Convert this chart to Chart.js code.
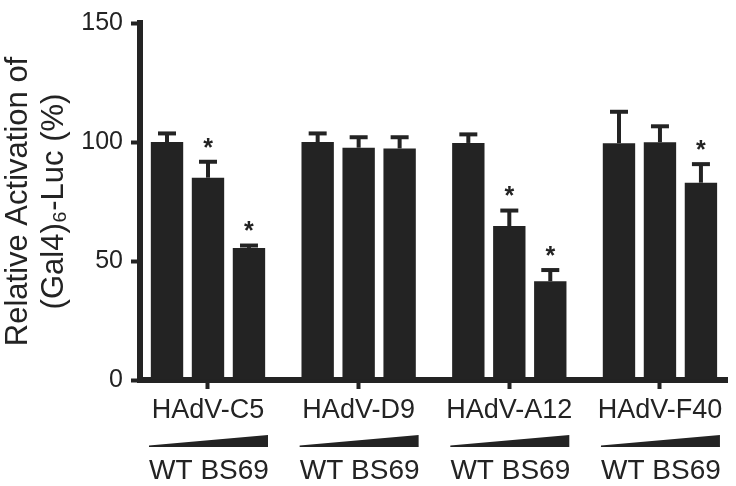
<!DOCTYPE html>
<html>
<head>
<meta charset="utf-8">
<script src="https://cdn.jsdelivr.net/npm/chart.js@4.4.1/dist/chart.umd.min.js"></script>
<style>
  html, body { margin: 0; padding: 0; background: #fff; }
  #wrap { width: 736px; height: 486px; }
</style>
</head>
<body>
<div id="wrap"><canvas id="activationChart" width="736" height="486"></canvas></div>
<script>
const groups = ['HAdV-C5', 'HAdV-D9', 'HAdV-A12', 'HAdV-F40'];
const doseLabel = 'WT BS69';
// mean activation (%) for the three increasing BS69 doses
const dose1 = [100, 100, 99.6, 99.5];
const dose2 = [85, 97.6, 64.7, 99.9];
const dose3 = [55.5, 97.3, 41.5, 82.9];
// upper error bars
const err1 = [3.6, 3.6, 3.6, 13.2];
const err2 = [6.7, 4.4, 6.5, 6.7];
const err3 = [1.0, 4.7, 4.7, 7.8];
// significance asterisks
const sig1 = [false, false, false, false];
const sig2 = [true, false, true, false];
const sig3 = [true, false, true, true];
const yTicks = [0, 50, 100, 150];

const ink = '#232323';
const fontFamily = '"Liberation Sans", Arial, sans-serif';

function toPoints(values) {
    return values.map((v, i) => ({ x: i, y: v }));
}

function makeSet(label, values, errors, stars) {
    return {
        label: label,
        data: toPoints(values),
        errors: errors,
        stars: stars,
        backgroundColor: ink,
        borderWidth: 0,
        categoryPercentage: 0.816,
        barPercentage: 0.79
    };
}

// error bars (upper only) + asterisks
const errorBars = {
    id: 'errorBars',
    afterDatasetsDraw(chart) {
        const { ctx, scales: { y } } = chart;
        ctx.save();
        ctx.strokeStyle = ink;
        ctx.fillStyle = ink;
        chart.data.datasets.forEach((ds, di) => {
            const meta = chart.getDatasetMeta(di);
            meta.data.forEach((bar, i) => {
                const top = y.getPixelForValue(ds.data[i].y + ds.errors[i]);
                ctx.lineWidth = 4;
                ctx.beginPath();
                ctx.moveTo(bar.x, bar.y);
                ctx.lineTo(bar.x, top);
                ctx.stroke();
                ctx.beginPath();
                ctx.moveTo(bar.x - 9, top);
                ctx.lineTo(bar.x + 9, top);
                ctx.stroke();
                if (ds.stars[i]) {
                    ctx.font = 'bold 25px ' + fontFamily;
                    ctx.textAlign = 'center';
                    ctx.textBaseline = 'middle';
                    ctx.fillText('*', bar.x, top - 13);
                }
            });
        });
        ctx.restore();
    }
};

// dose wedges and "WT BS69" under each group
const doseWedges = {
    id: 'doseWedges',
    afterDraw(chart) {
        const { ctx, scales: { x }, chartArea } = chart;
        const base = chartArea.bottom;
        ctx.save();
        ctx.fillStyle = ink;
        groups.forEach((g, i) => {
            const cx = x.getPixelForValue(i);
            ctx.beginPath();
            ctx.moveTo(cx - 59, base + 65.5);
            ctx.lineTo(cx + 60, base + 55);
            ctx.lineTo(cx + 60, base + 67);
            ctx.lineTo(cx - 59, base + 67);
            ctx.closePath();
            ctx.fill();
            ctx.font = '28px ' + fontFamily;
            ctx.textAlign = 'center';
            ctx.textBaseline = 'alphabetic';
            ctx.fillText(doseLabel, cx + 1, base + 99);
        });
        ctx.restore();
    }
};

const ctx = document.getElementById('activationChart');
new Chart(ctx, {
    type: 'bar',
    data: {
        datasets: [
            makeSet('dose 1', dose1, err1, sig1),
            makeSet('dose 2', dose2, err2, sig2),
            makeSet('dose 3', dose3, err3, sig3)
        ]
    },
    options: {
        responsive: false,
        animation: false,
        events: [],
        layout: { padding: { top: 15, right: 9, bottom: 0, left: 0 } },
        plugins: {
            legend: { display: false },
            tooltip: { enabled: false }
        },
        scales: {
            x: {
                type: 'linear',
                offset: false,
                min: -0.4513,
                max: 3.445,
                afterFit: function (scale) { scale.height = 106; },
                grid: {
                    offset: false,
                    drawOnChartArea: false,
                    drawTicks: true,
                    tickLength: 9,
                    tickWidth: 4,
                    tickColor: ink
                },
                border: { display: true, width: 6, color: ink },
                ticks: {
                    stepSize: 1,
                    includeBounds: false,
                    autoSkip: false,
                    maxRotation: 0,
                    padding: 5,
                    color: ink,
                    font: { size: 27, family: fontFamily },
                    callback: function (value) {
                        return Number.isInteger(value) ? groups[value] : '';
                    }
                }
            },
            y: {
                min: 0,
                max: 150,
                afterFit: function (scale) { scale.width = 140; },
                afterBuildTicks: function (scale) {
                    scale.ticks = yTicks.map(v => ({ value: v }));
                },
                grid: {
                    drawOnChartArea: false,
                    drawTicks: true,
                    tickLength: 9,
                    tickWidth: 4,
                    tickColor: ink
                },
                border: { display: true, width: 6, color: ink },
                ticks: {
                    padding: 8,
                    color: ink,
                    font: { size: 25, family: fontFamily }
                },
                title: {
                    display: true,
                    text: ['Relative Activation of', '(Gal4)\u2086-Luc (%)'],
                    color: ink,
                    padding: { top: 1, bottom: 0 },
                    font: { size: 31, family: fontFamily, lineHeight: 1.15 }
                }
            }
        }
    },
    plugins: [errorBars, doseWedges]
});
</script>
</body>
</html>
